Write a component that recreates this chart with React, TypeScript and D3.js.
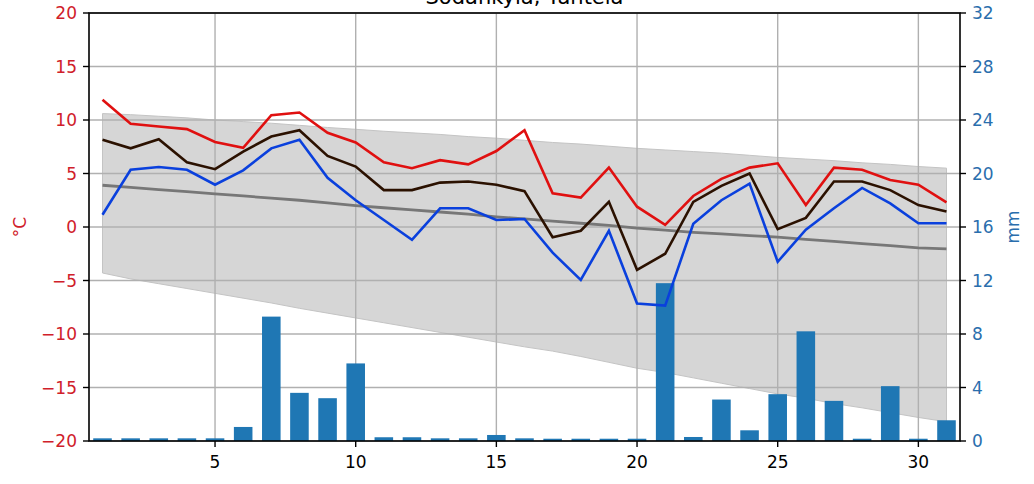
import React from "react";
import * as d3 from "d3";

const days = d3.range(1, 32);
const tMax = [11.9, 9.65, 9.4, 9.15, 7.95, 7.4, 10.45, 10.7, 8.8, 7.9, 6.05, 5.5, 6.25, 5.85, 7.1, 9.05, 3.15, 2.75, 5.55, 1.9, 0.2, 2.9, 4.5, 5.55, 5.95, 2.05, 5.55, 5.35, 4.4, 3.95, 2.3];
const tMean = [8.15, 7.35, 8.2, 6.05, 5.4, 7.05, 8.45, 9.05, 6.65, 5.65, 3.45, 3.45, 4.15, 4.25, 3.95, 3.35, -0.95, -0.35, 2.35, -4.0, -2.5, 2.35, 3.85, 5.0, -0.2, 0.85, 4.25, 4.25, 3.45, 2.05, 1.45];
const tMin = [1.15, 5.35, 5.6, 5.35, 3.95, 5.3, 7.35, 8.15, 4.6, 2.5, 0.65, -1.2, 1.75, 1.75, 0.65, 0.75, -2.4, -4.95, -0.35, -7.15, -7.35, 0.3, 2.5, 4.05, -3.25, -0.25, 1.75, 3.65, 2.2, 0.35, 0.35];
const normMean = [3.9, 3.7, 3.5, 3.3, 3.1, 2.9, 2.7, 2.5, 2.25, 2.0, 1.8, 1.6, 1.4, 1.2, 0.95, 0.75, 0.55, 0.35, 0.15, -0.1, -0.3, -0.5, -0.65, -0.8, -0.95, -1.15, -1.35, -1.55, -1.75, -1.95, -2.05];
const bandHigh = [10.6, 10.5, 10.35, 10.2, 10.0, 9.85, 9.7, 9.5, 9.3, 9.13, 8.95, 8.8, 8.65, 8.45, 8.3, 8.1, 7.9, 7.75, 7.55, 7.35, 7.2, 7.05, 6.9, 6.7, 6.5, 6.35, 6.2, 6.0, 5.85, 5.65, 5.5];
const bandLow = [-4.3, -4.85, -5.3, -5.75, -6.2, -6.65, -7.1, -7.6, -8.05, -8.5, -8.95, -9.4, -9.85, -10.3, -10.75, -11.2, -11.6, -12.1, -12.65, -13.2, -13.6, -14.1, -14.6, -15.1, -15.6, -16.0, -16.5, -16.9, -17.35, -17.8, -18.2];
const precip = [0.2, 0.2, 0.2, 0.2, 0.2, 1.05, 9.3, 3.6, 3.2, 5.8, 0.28, 0.28, 0.2, 0.2, 0.45, 0.2, 0.17, 0.17, 0.17, 0.17, 11.8, 0.3, 3.1, 0.8, 3.5, 8.2, 3.0, 0.17, 4.1, 0.17, 1.55];

const xTicks = [5, 10, 15, 20, 25, 30];
const tTicks = [-20, -15, -10, -5, 0, 5, 10, 15, 20];
const pTicks = [0, 4, 8, 12, 16, 20, 24, 28, 32];
const title = "Sodankylä, Tähtelä";

export default function App() {
  const W = 1034, H = 484;
  const L = 89, R = 960, T = 13, B = 441;
  const x = d3.scaleLinear().domain([0.52, 31.48]).range([L, R]);
  const yT = d3.scaleLinear().domain([-20, 20]).range([B, T]);
  const yP = d3.scaleLinear().domain([0, 32]).range([B, T]);
  const font = "DejaVu Sans, sans-serif";
  const red = "#d0202a";
  const blueLbl = "#2a6ead";
  const fs = 17;

  const area = d3.area<number>()
    .x((d) => x(d))
    .y0((_, i) => yT(bandLow[i]))
    .y1((_, i) => yT(bandHigh[i]));
  const line = (vals: number[]) =>
    d3.line<number>().x((d) => x(d)).y((_, i) => yT(vals[i]))(days) || "";
  const bw = x(1.66) - x(1);

  return (
    <svg width={W} height={H} style={{ position: "absolute", left: 0, top: 0 }}>
      <rect x={0} y={0} width={W} height={H} fill="#fff" />
      <text x={(L + R) / 2} y={4} textAnchor="middle" fontFamily={font} fontSize={21} fill="#000">{title}</text>
      <path d={area(days) || ""} fill="#d6d6d6" stroke="#c4c4c4" strokeWidth={1} />
      {xTicks.map((t) => (
        <line key={"gx" + t} x1={x(t)} x2={x(t)} y1={T} y2={B} stroke="#b0b0b0" strokeWidth={1.4} />
      ))}
      {tTicks.map((t) => (
        <line key={"gy" + t} x1={L} x2={R} y1={yT(t)} y2={yT(t)} stroke="#b0b0b0" strokeWidth={1.4} />
      ))}
      {precip.map((p, i) => (
        <rect key={"b" + i} x={x(days[i]) - bw / 2} y={yP(p)} width={bw} height={yP(0) - yP(p)} fill="#1f77b4" />
      ))}
      <path d={line(normMean)} fill="none" stroke="#777" strokeWidth={2.8} />
      <path d={line(tMin)} fill="none" stroke="#0a40dd" strokeWidth={2.6} />
      <path d={line(tMean)} fill="none" stroke="#2b1100" strokeWidth={2.6} />
      <path d={line(tMax)} fill="none" stroke="#e01010" strokeWidth={2.6} />
      <rect x={L} y={T} width={R - L} height={B - T} fill="none" stroke="#000" strokeWidth={1.6} />
      {tTicks.map((t) => (
        <g key={"lt" + t}>
          <line x1={L - 6} x2={L} y1={yT(t)} y2={yT(t)} stroke="#000" strokeWidth={1.4} />
          <text x={L - 12} y={yT(t)} dy="0.36em" textAnchor="end" fontFamily={font} fontSize={fs} fill={red}>
            {t < 0 ? "\u2212" + Math.abs(t) : String(t)}
          </text>
        </g>
      ))}
      {pTicks.map((t) => (
        <g key={"rt" + t}>
          <line x1={R} x2={R + 6} y1={yP(t)} y2={yP(t)} stroke="#000" strokeWidth={1.4} />
          <text x={R + 12} y={yP(t)} dy="0.36em" textAnchor="start" fontFamily={font} fontSize={fs} fill={blueLbl}>{t}</text>
        </g>
      ))}
      {xTicks.map((t) => (
        <g key={"xt" + t}>
          <line x1={x(t)} x2={x(t)} y1={B} y2={B + 6} stroke="#000" strokeWidth={1.4} />
          <text x={x(t)} y={B + 21} dy="0.36em" textAnchor="middle" fontFamily={font} fontSize={fs} fill="#000">{t}</text>
        </g>
      ))}
      <text transform={`translate(20,${yT(0)}) rotate(-90)`} textAnchor="middle" dy="0.36em" fontFamily={font} fontSize={fs} fill={red}>°C</text>
      <text transform={`translate(1013,${yT(0)}) rotate(-90)`} textAnchor="middle" dy="0.36em" fontFamily={font} fontSize={fs} fill={blueLbl}>mm</text>
    </svg>
  );
}
